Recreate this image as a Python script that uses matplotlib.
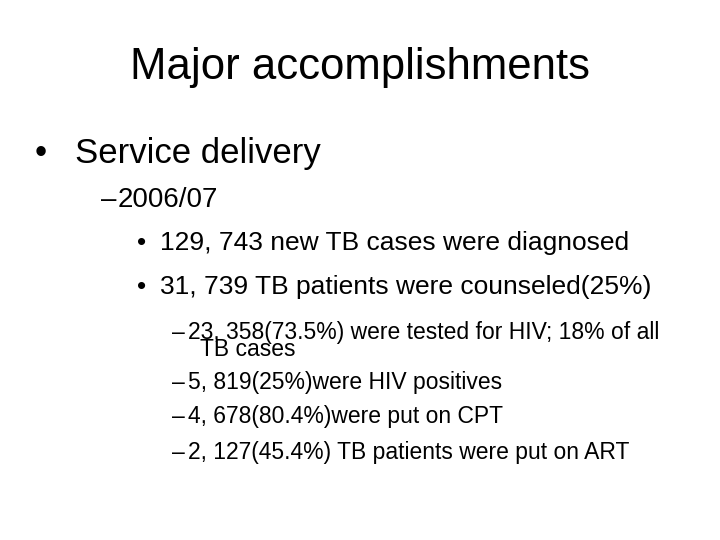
import matplotlib
matplotlib.use("Agg")
import matplotlib.pyplot as plt

title = "Major accomplishments"
level1 = ["Service delivery"]
level2 = ["2006/07"]
level3 = ["129, 743 new TB cases were diagnosed",
          "31, 739 TB patients were counseled(25%)"]
level4 = ["23, 358(73.5%) were tested for HIV; 18% of all\nTB cases",
          "5, 819(25%)were HIV positives",
          "4, 678(80.4%)were put on CPT",
          "2, 127(45.4%) TB patients were put on ART"]

plt.rcParams['font.family'] = ['Liberation Sans', 'DejaVu Sans']
fig = plt.figure(figsize=(7.2, 5.4), dpi=100)
fig.patch.set_facecolor('white')
W, H = 720, 540
def t(x, y, s, size, **kw):
    fig.text(x / W, 1 - y / H, s, fontsize=size, va='center', ha='left', **kw)

fig.text(0.5, 1 - 68 / H, title, fontsize=31.5, ha='center', va='center')
t(35, 153, "•", 25); t(75, 153, level1[0], 25)
t(101, 200, "–", 20); t(118, 200, level2[0], 20)
for i, s in enumerate(level3):
    y = 243 + i * 44
    t(137, y, "•", 19); t(160, y, s, 19)
ys = [332, 383, 417, 452]
for y, s in zip(ys, level4):
    t(172, y, "–", 16.5)
    if "\n" in s:
        a, b = s.split("\n")
        t(188, 332, a, 16.5); t(200, 350, b, 16.5)
    else:
        t(188, y, s, 16.5)
fig.savefig("out.png", dpi=100)
